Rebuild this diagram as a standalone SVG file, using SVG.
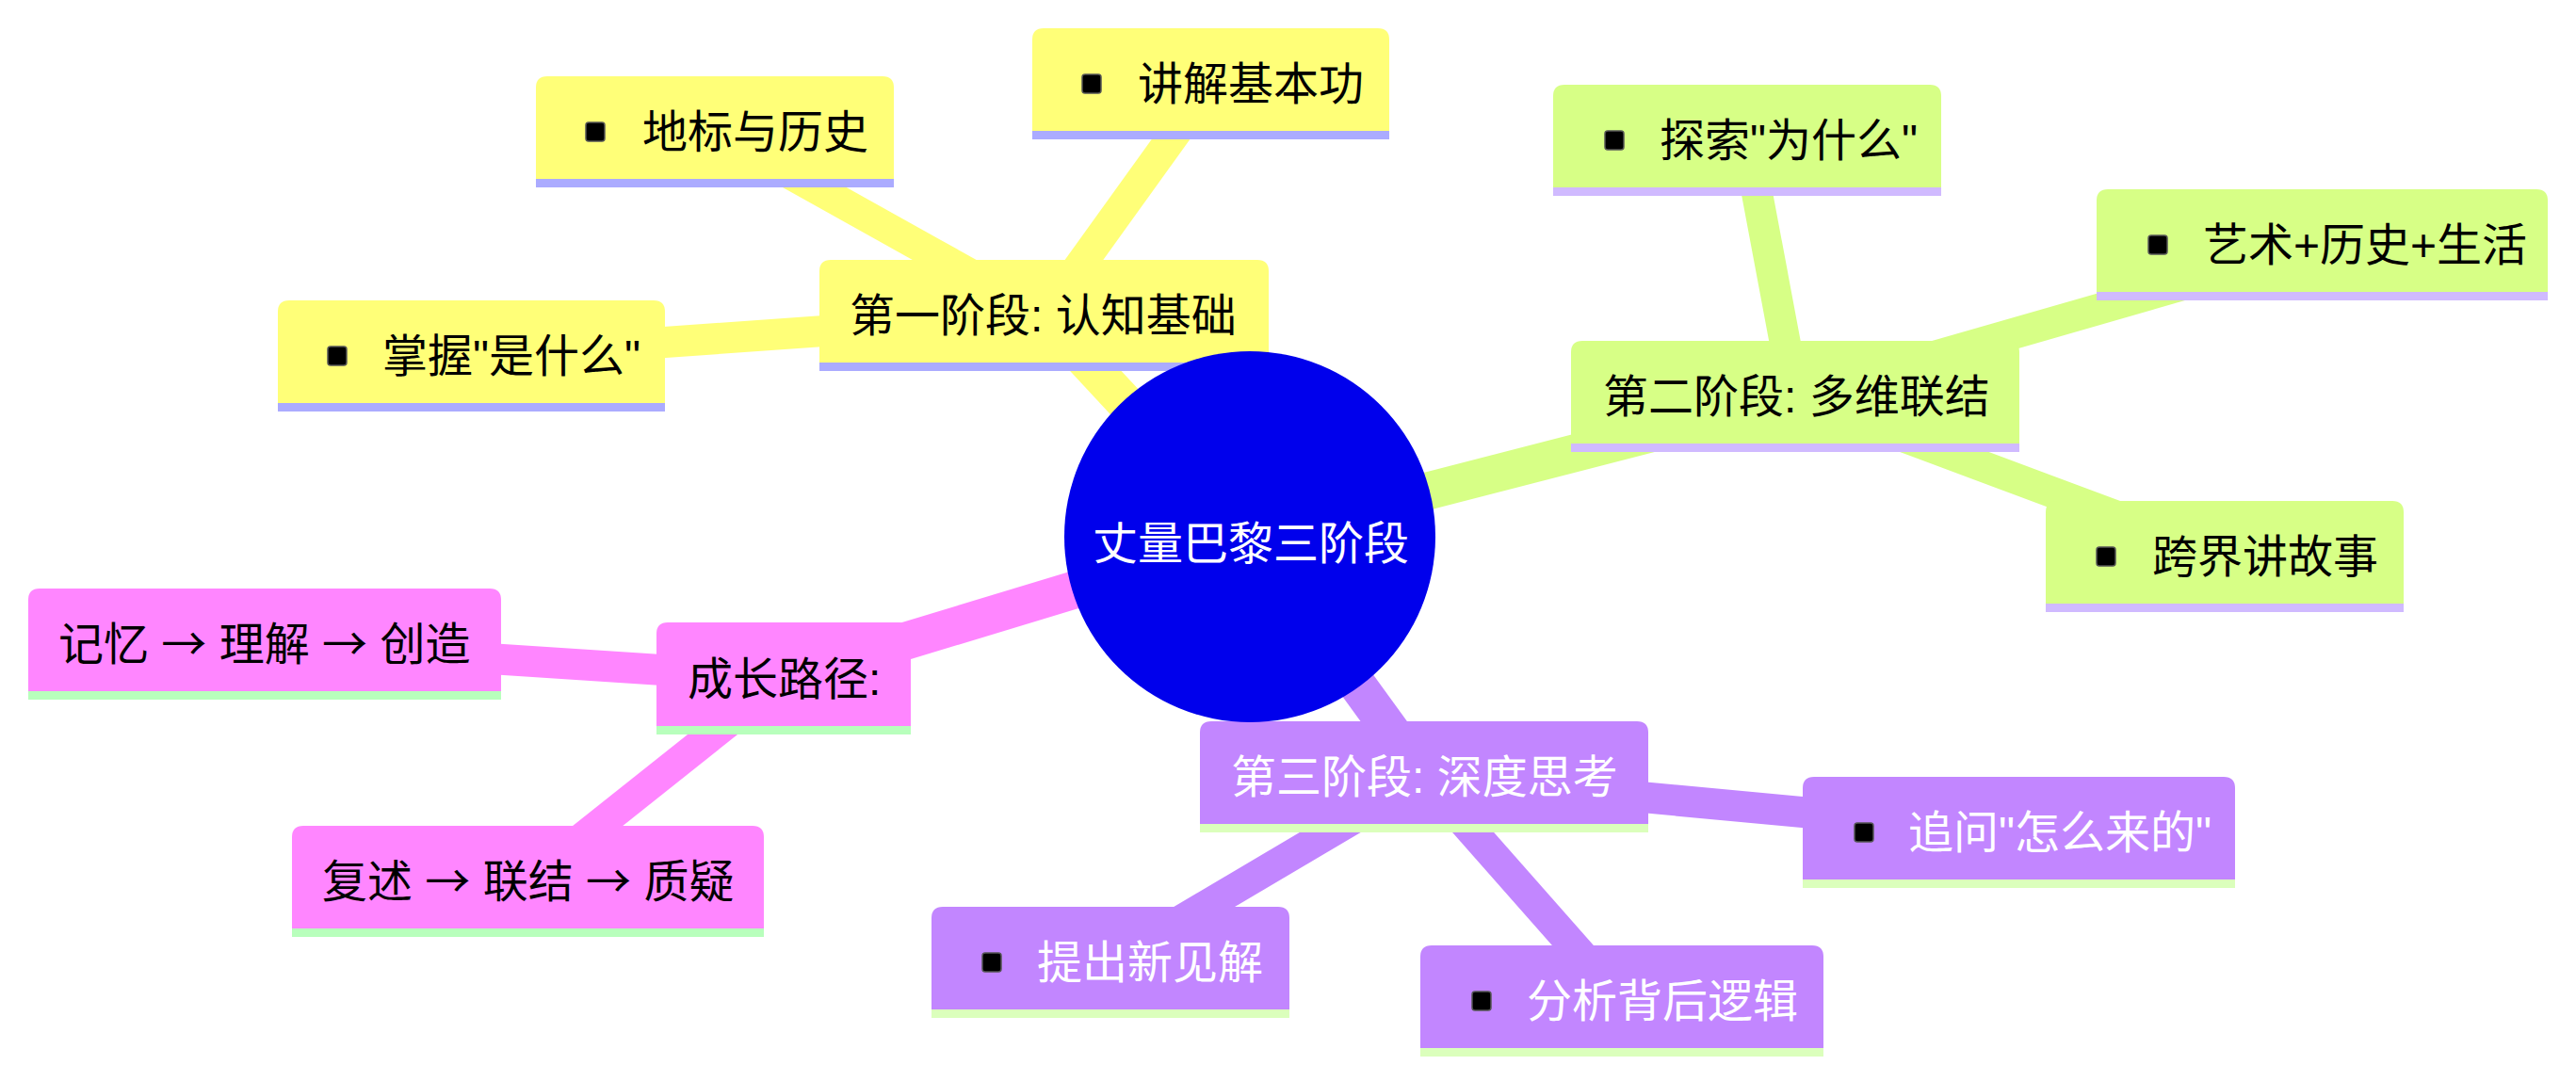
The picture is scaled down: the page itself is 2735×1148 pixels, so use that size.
<svg xmlns="http://www.w3.org/2000/svg" width="2735" height="1148" viewBox="0 0 2735 1148">
<style>
text{font-family:"Liberation Sans","Noto Sans CJK SC",sans-serif;font-size:48px}
.ar{font-family:"Noto Sans CJK SC",sans-serif}
.e0{stroke-width:40;fill:none}
.e1{stroke-width:33;fill:none}
.c0{stroke:#FFFF78}.c1{stroke:#D7FF86}.c2{stroke:#C286FF}.c3{stroke:#FF86FF}
.f0{fill:#FFFF78}.f1{fill:#D7FF86}.f2{fill:#C286FF}.f3{fill:#FF86FF}
.l0{fill:#ABABFF}.l1{fill:#D0BAFF}.l2{fill:#DBFFBC}.l3{fill:#B8FFBC}
.tb{fill:#000}.tw{fill:#fff}
.b{fill:#000;stroke:#555;stroke-width:1.5}
</style>
<rect width="2735" height="1148" fill="#fff"/>
<g id="connectors">
<line class="e0 c0" x1="1327" y1="570" x2="1108.5" y2="335"/>
<line class="e0 c1" x1="1327" y1="570" x2="1906" y2="421"/>
<line class="e0 c2" x1="1327" y1="570" x2="1512" y2="825"/>
<line class="e0 c3" x1="1327" y1="570" x2="832" y2="720"/>
<line class="e1 c0" x1="1108.5" y1="335" x2="1285.5" y2="89"/>
<line class="e1 c0" x1="1108.5" y1="335" x2="759" y2="140"/>
<line class="e1 c0" x1="1108.5" y1="335" x2="500.5" y2="378"/>
<line class="e1 c1" x1="1906" y1="421" x2="1855" y2="149"/>
<line class="e1 c1" x1="1906" y1="421" x2="2465.5" y2="260"/>
<line class="e1 c1" x1="1906" y1="421" x2="2362" y2="591"/>
<line class="e1 c2" x1="1512" y1="825" x2="2143.5" y2="884"/>
<line class="e1 c2" x1="1512" y1="825" x2="1722" y2="1063"/>
<line class="e1 c2" x1="1512" y1="825" x2="1179" y2="1022"/>
<line class="e1 c3" x1="832" y1="720" x2="281" y2="684"/>
<line class="e1 c3" x1="832" y1="720" x2="560.5" y2="936"/>
</g>
<g id="n-jiangjie">
<path class="f0" d="M1096 148V42Q1096 30 1108 30H1463Q1475 30 1475 42V148Z"/>
<rect class="l0" x="1096" y="139" width="379" height="9"/>
<rect class="b" x="1149" y="79" width="20" height="20" rx="3"/>
<text class="tb" x="1208" y="106">讲解基本功</text>
</g>
<g id="n-dibiao">
<path class="f0" d="M569 199V93Q569 81 581 81H937Q949 81 949 93V199Z"/>
<rect class="l0" x="569" y="190" width="380" height="9"/>
<rect class="b" x="622" y="130" width="20" height="20" rx="3"/>
<text class="tb" x="682" y="157">地标与历史</text>
</g>
<g id="n-zhangwo">
<path class="f0" d="M295 437V331Q295 319 307 319H694Q706 319 706 331V437Z"/>
<rect class="l0" x="295" y="428" width="411" height="9"/>
<rect class="b" x="348" y="368" width="20" height="20" rx="3"/>
<text class="tb" x="406" y="395">掌握"是什么"</text>
</g>
<g id="n-stage1">
<path class="f0" d="M870 394V288Q870 276 882 276H1335Q1347 276 1347 288V394Z"/>
<rect class="l0" x="870" y="385" width="477" height="9"/>
<text class="tb" x="902" y="352">第一阶段: 认知基础</text>
</g>
<g id="n-tansuo">
<path class="f1" d="M1649 208V102Q1649 90 1661 90H2049Q2061 90 2061 102V208Z"/>
<rect class="l1" x="1649" y="199" width="412" height="9"/>
<rect class="b" x="1704" y="139" width="20" height="20" rx="3"/>
<text class="tb" x="1762" y="166">探索"为什么"</text>
</g>
<g id="n-yishu">
<path class="f1" d="M2226 319V213Q2226 201 2238 201H2693Q2705 201 2705 213V319Z"/>
<rect class="l1" x="2226" y="310" width="479" height="9"/>
<rect class="b" x="2281" y="250" width="20" height="20" rx="3"/>
<text class="tb" x="2339" y="277">艺术+历史+生活</text>
</g>
<g id="n-stage2">
<path class="f1" d="M1668 480V374Q1668 362 1680 362H2132Q2144 362 2144 374V480Z"/>
<rect class="l1" x="1668" y="471" width="476" height="9"/>
<text class="tb" x="1702" y="438">第二阶段: 多维联结</text>
</g>
<g id="n-kuajie">
<path class="f1" d="M2172 650V544Q2172 532 2184 532H2540Q2552 532 2552 544V650Z"/>
<rect class="l1" x="2172" y="641" width="380" height="9"/>
<rect class="b" x="2226" y="581" width="20" height="20" rx="3"/>
<text class="tb" x="2285" y="608">跨界讲故事</text>
</g>
<g id="n-stage3">
<path class="f2" d="M1274 884V778Q1274 766 1286 766H1738Q1750 766 1750 778V884Z"/>
<rect class="l2" x="1274" y="875" width="476" height="9"/>
<text class="tw" x="1307" y="842">第三阶段: 深度思考</text>
</g>
<g id="n-zhuiwen">
<path class="f2" d="M1914 943V837Q1914 825 1926 825H2361Q2373 825 2373 837V943Z"/>
<rect class="l2" x="1914" y="934" width="459" height="9"/>
<rect class="b" x="1969" y="874" width="20" height="20" rx="3"/>
<text class="tw" x="2026" y="901">追问"怎么来的"</text>
</g>
<g id="n-fenxi">
<path class="f2" d="M1508 1122V1016Q1508 1004 1520 1004H1924Q1936 1004 1936 1016V1122Z"/>
<rect class="l2" x="1508" y="1113" width="428" height="9"/>
<rect class="b" x="1563" y="1053" width="20" height="20" rx="3"/>
<text class="tw" x="1621" y="1080">分析背后逻辑</text>
</g>
<g id="n-tichu">
<path class="f2" d="M989 1081V975Q989 963 1001 963H1357Q1369 963 1369 975V1081Z"/>
<rect class="l2" x="989" y="1072" width="380" height="9"/>
<rect class="b" x="1043" y="1012" width="20" height="20" rx="3"/>
<text class="tw" x="1101" y="1039">提出新见解</text>
</g>
<g id="n-growth">
<path class="f3" d="M697 780V673Q697 661 709 661H955Q967 661 967 673V780Z"/>
<rect class="l3" x="697" y="771" width="270" height="9"/>
<text class="tb" x="730" y="738">成长路径:</text>
</g>
<g id="n-jiyi">
<path class="f3" d="M30 743V637Q30 625 42 625H520Q532 625 532 637V743Z"/>
<rect class="l3" x="30" y="734" width="502" height="9"/>
<text class="tb" x="62" y="701">记忆 <tspan class="ar">→</tspan> 理解 <tspan class="ar">→</tspan> 创造</text>
</g>
<g id="n-fushu">
<path class="f3" d="M310 995V889Q310 877 322 877H799Q811 877 811 889V995Z"/>
<rect class="l3" x="310" y="986" width="501" height="9"/>
<text class="tb" x="342" y="953">复述 <tspan class="ar">→</tspan> 联结 <tspan class="ar">→</tspan> 质疑</text>
</g>
<g id="n-root">
<circle cx="1327" cy="570" r="197" fill="#0000EC"/>
<text class="tw" x="1328" y="594" text-anchor="middle">丈量巴黎三阶段</text>
</g>
</svg>
